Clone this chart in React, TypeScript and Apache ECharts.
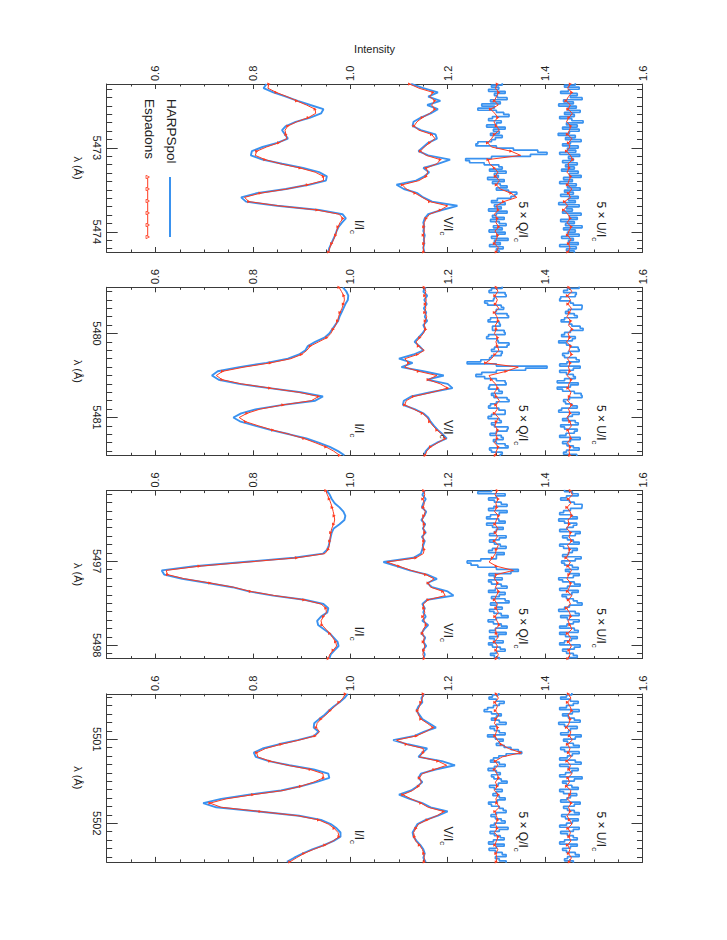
import React, { useEffect, useRef } from "react";
import * as echarts from "echarts";

// ---------- data: wavelength sampling per panel (Å) ----------
const lambdaStart = [5472.24, 5479.45, 5496.16, 5500.46];
const lambdaSpan = 2.0;
const lambdaStep = 0.05; // I, V and Espadons samples
const lambdaStepFine = 0.025; // HARPSpol Q, U samples

// ---------- Panel 1 (5473 Å) ----------
const harpsI_1 = [0.828, 0.822, 0.842, 0.868, 0.892, 0.918, 0.945, 0.940, 0.918, 0.888, 0.868, 0.860, 0.866, 0.872, 0.850, 0.820, 0.798, 0.796, 0.820, 0.860, 0.903, 0.936, 0.952, 0.950, 0.915, 0.868, 0.808, 0.776, 0.786, 0.850, 0.936, 0.984, 0.991, 0.983, 0.976, 0.972, 0.969, 0.965, 0.961, 0.957, 0.955];
const espI_1 = [0.833, 0.831, 0.848, 0.870, 0.890, 0.910, 0.928, 0.929, 0.914, 0.890, 0.872, 0.866, 0.868, 0.870, 0.853, 0.828, 0.808, 0.805, 0.825, 0.857, 0.897, 0.928, 0.945, 0.945, 0.912, 0.870, 0.815, 0.783, 0.792, 0.852, 0.932, 0.977, 0.985, 0.979, 0.975, 0.972, 0.970, 0.966, 0.962, 0.958, 0.956];
const harpsV_1 = [1.125, 1.150, 1.180, 1.160, 1.185, 1.158, 1.180, 1.165, 1.145, 1.130, 1.128, 1.145, 1.175, 1.178, 1.160, 1.150, 1.140, 1.160, 1.205, 1.180, 1.150, 1.162, 1.152, 1.135, 1.095, 1.110, 1.138, 1.150, 1.168, 1.220, 1.188, 1.160, 1.153, 1.150, 1.152, 1.150, 1.153, 1.151, 1.152, 1.150, 1.152];
const espV_1 = [1.122, 1.141, 1.170, 1.163, 1.174, 1.167, 1.174, 1.163, 1.148, 1.137, 1.131, 1.141, 1.167, 1.174, 1.163, 1.152, 1.144, 1.156, 1.185, 1.178, 1.156, 1.159, 1.156, 1.141, 1.107, 1.115, 1.133, 1.148, 1.163, 1.200, 1.185, 1.163, 1.156, 1.152, 1.151, 1.152, 1.150, 1.152, 1.151, 1.150, 1.151];
const harpsQ_1 = [
  1.312, 1.290, 1.305, 1.284, 1.318, 1.296, 1.302, 1.322, 1.288, 1.308,
  1.270, 1.296, 1.262, 1.300, 1.315, 1.326, 1.292, 1.284, 1.310, 1.300,
  1.280, 1.318, 1.294, 1.306, 1.288, 1.312, 1.298, 1.290, 1.262, 1.258,
  1.300, 1.335, 1.385, 1.404, 1.370, 1.290, 1.237, 1.245, 1.275, 1.305,
  1.312, 1.286, 1.320, 1.296, 1.304, 1.282, 1.316, 1.292, 1.308, 1.322,
  1.300, 1.325, 1.342, 1.338, 1.330, 1.302, 1.290, 1.318, 1.296, 1.310,
  1.284, 1.322, 1.300, 1.292, 1.316, 1.288, 1.306, 1.320, 1.294, 1.312,
  1.285, 1.318, 1.302, 1.290, 1.324, 1.296, 1.308, 1.286, 1.314, 1.300,
  1.306];
const espQ_1 = [1.302, 1.298, 1.305, 1.300, 1.296, 1.304, 1.288, 1.297, 1.303, 1.295, 1.300, 1.306, 1.296, 1.290, 1.282, 1.290, 1.330, 1.350, 1.283, 1.286, 1.296, 1.303, 1.298, 1.306, 1.300, 1.308, 1.330, 1.342, 1.315, 1.300, 1.304, 1.296, 1.302, 1.299, 1.305, 1.297, 1.303, 1.300, 1.296, 1.304, 1.300];
const harpsU_1 = [
  1.462, 1.440, 1.470, 1.448, 1.432, 1.466, 1.452, 1.476, 1.438, 1.458,
  1.428, 1.464, 1.446, 1.472, 1.440, 1.460, 1.430, 1.455, 1.478, 1.444,
  1.466, 1.436, 1.470, 1.450, 1.427, 1.462, 1.442, 1.474, 1.452, 1.436,
  1.468, 1.446, 1.463, 1.430, 1.471, 1.448, 1.458, 1.436, 1.466, 1.442,
  1.460, 1.434, 1.468, 1.450, 1.474, 1.438, 1.456, 1.430, 1.464, 1.446,
  1.472, 1.440, 1.458, 1.432, 1.468, 1.448, 1.462, 1.428, 1.470, 1.444,
  1.456, 1.436, 1.474, 1.450, 1.466, 1.432, 1.460, 1.442, 1.476, 1.438,
  1.462, 1.446, 1.470, 1.434, 1.458, 1.448, 1.468, 1.430, 1.464, 1.444,
  1.460];
const espU_1 = [1.452, 1.446, 1.455, 1.448, 1.443, 1.452, 1.447, 1.456, 1.449, 1.444, 1.453, 1.450, 1.446, 1.455, 1.448, 1.451, 1.444, 1.452, 1.457, 1.447, 1.450, 1.445, 1.453, 1.449, 1.446, 1.455, 1.448, 1.452, 1.440, 1.446, 1.438, 1.447, 1.452, 1.445, 1.454, 1.449, 1.446, 1.453, 1.448, 1.451, 1.447];

// ---------- Panel 2 (5480 Å) ----------
const harpsI_2 = [0.985, 0.992, 0.996, 0.995, 0.990, 0.986, 0.982, 0.978, 0.975, 0.969, 0.963, 0.957, 0.947, 0.928, 0.913, 0.908, 0.895, 0.872, 0.828, 0.772, 0.728, 0.716, 0.730, 0.772, 0.834, 0.898, 0.944, 0.928, 0.862, 0.808, 0.776, 0.760, 0.775, 0.806, 0.838, 0.875, 0.910, 0.935, 0.958, 0.975, 0.988];
const espI_2 = [0.977, 0.982, 0.987, 0.988, 0.986, 0.983, 0.979, 0.976, 0.974, 0.970, 0.965, 0.960, 0.952, 0.935, 0.918, 0.911, 0.900, 0.878, 0.836, 0.782, 0.738, 0.725, 0.737, 0.777, 0.835, 0.895, 0.935, 0.920, 0.862, 0.815, 0.788, 0.772, 0.785, 0.812, 0.841, 0.875, 0.905, 0.928, 0.950, 0.966, 0.978];
const harpsV_2 = [1.155, 1.150, 1.158, 1.152, 1.157, 1.151, 1.156, 1.153, 1.158, 1.150, 1.154, 1.148, 1.140, 1.132, 1.142, 1.150, 1.130, 1.100, 1.128, 1.105, 1.150, 1.192, 1.158, 1.200, 1.210, 1.165, 1.125, 1.110, 1.108, 1.132, 1.150, 1.160, 1.165, 1.172, 1.180, 1.190, 1.198, 1.178, 1.163, 1.155, 1.152];
const espV_2 = [1.152, 1.155, 1.153, 1.156, 1.154, 1.155, 1.153, 1.157, 1.154, 1.152, 1.155, 1.150, 1.143, 1.135, 1.140, 1.152, 1.138, 1.112, 1.120, 1.112, 1.140, 1.178, 1.160, 1.185, 1.200, 1.168, 1.130, 1.115, 1.112, 1.130, 1.148, 1.158, 1.163, 1.170, 1.178, 1.188, 1.195, 1.180, 1.165, 1.157, 1.154];
const harpsQ_2 = [
  1.312, 1.290, 1.285, 1.318, 1.320, 1.296, 1.294, 1.276, 1.282, 1.310,
  1.315, 1.300, 1.298, 1.322, 1.325, 1.288, 1.283, 1.306, 1.308, 1.292,
  1.292, 1.316, 1.318, 1.284, 1.280, 1.302, 1.304, 1.326, 1.322, 1.296,
  1.290, 1.312, 1.310, 1.290, 1.286, 1.268, 1.240, 1.300, 1.404, 1.360,
  1.300, 1.270, 1.258, 1.276, 1.300, 1.318, 1.320, 1.286, 1.284, 1.305,
  1.312, 1.290, 1.295, 1.322, 1.326, 1.300, 1.288, 1.284, 1.305, 1.318,
  1.318, 1.290, 1.283, 1.306, 1.310, 1.290, 1.296, 1.324, 1.322, 1.300,
  1.287, 1.310, 1.314, 1.294, 1.300, 1.318, 1.324, 1.286, 1.290, 1.312,
  1.308];
const espQ_2 = [1.300, 1.303, 1.297, 1.302, 1.298, 1.305, 1.296, 1.301, 1.304, 1.298, 1.300, 1.296, 1.303, 1.299, 1.302, 1.305, 1.297, 1.290, 1.278, 1.345, 1.320, 1.285, 1.290, 1.298, 1.303, 1.296, 1.300, 1.306, 1.299, 1.302, 1.296, 1.304, 1.300, 1.297, 1.303, 1.299, 1.302, 1.296, 1.304, 1.300, 1.298];
const harpsU_2 = [
  1.470, 1.446, 1.438, 1.464, 1.462, 1.432, 1.430, 1.452, 1.458, 1.476,
  1.475, 1.448, 1.442, 1.460, 1.466, 1.440, 1.433, 1.450, 1.455, 1.472,
  1.478, 1.452, 1.440, 1.434, 1.462, 1.456, 1.428, 1.444, 1.452, 1.468,
  1.470, 1.448, 1.436, 1.440, 1.464, 1.470, 1.445, 1.430, 1.472, 1.458,
  1.430, 1.444, 1.458, 1.462, 1.440, 1.425, 1.468, 1.452, 1.425, 1.436,
  1.460, 1.474, 1.476, 1.450, 1.438, 1.442, 1.455, 1.466, 1.434, 1.428,
  1.470, 1.456, 1.447, 1.436, 1.462, 1.468, 1.432, 1.440, 1.466, 1.460,
  1.443, 1.430, 1.472, 1.452, 1.436, 1.445, 1.458, 1.470, 1.444, 1.438,
  1.465];
const espU_2 = [1.449, 1.455, 1.446, 1.452, 1.447, 1.454, 1.450, 1.445, 1.453, 1.448, 1.456, 1.447, 1.451, 1.444, 1.453, 1.449, 1.455, 1.446, 1.452, 1.448, 1.451, 1.445, 1.454, 1.449, 1.447, 1.453, 1.450, 1.446, 1.455, 1.448, 1.452, 1.445, 1.451, 1.454, 1.447, 1.450, 1.453, 1.446, 1.452, 1.449, 1.451];

// ---------- Panel 3 (5497 Å) ----------
const harpsI_3 = [0.952, 0.958, 0.962, 0.968, 0.978, 0.986, 0.990, 0.988, 0.978, 0.966, 0.962, 0.960, 0.958, 0.956, 0.953, 0.944, 0.885, 0.782, 0.680, 0.613, 0.618, 0.655, 0.708, 0.758, 0.792, 0.842, 0.906, 0.945, 0.955, 0.953, 0.940, 0.932, 0.934, 0.946, 0.958, 0.966, 0.974, 0.976, 0.968, 0.960, 0.957];
const espI_3 = [0.950, 0.953, 0.957, 0.960, 0.963, 0.965, 0.967, 0.968, 0.966, 0.962, 0.960, 0.959, 0.958, 0.957, 0.955, 0.948, 0.890, 0.790, 0.690, 0.622, 0.625, 0.660, 0.712, 0.760, 0.795, 0.845, 0.905, 0.940, 0.950, 0.951, 0.945, 0.940, 0.942, 0.950, 0.958, 0.964, 0.970, 0.972, 0.965, 0.958, 0.955];
const harpsV_3 = [1.153, 1.148, 1.155, 1.150, 1.147, 1.156, 1.152, 1.146, 1.154, 1.149, 1.155, 1.147, 1.153, 1.150, 1.148, 1.145, 1.130, 1.068, 1.095, 1.122, 1.158, 1.178, 1.158, 1.168, 1.200, 1.212, 1.158, 1.148, 1.153, 1.150, 1.155, 1.148, 1.160, 1.152, 1.146, 1.154, 1.150, 1.156, 1.149, 1.153, 1.150];
const espV_3 = [1.151, 1.153, 1.149, 1.152, 1.150, 1.154, 1.151, 1.148, 1.152, 1.150, 1.153, 1.149, 1.151, 1.148, 1.152, 1.150, 1.135, 1.075, 1.100, 1.125, 1.155, 1.172, 1.160, 1.165, 1.190, 1.195, 1.160, 1.150, 1.151, 1.153, 1.149, 1.152, 1.156, 1.150, 1.148, 1.152, 1.150, 1.153, 1.151, 1.149, 1.152];
const harpsQ_3 = [
  1.290, 1.262, 1.318, 1.300, 1.284, 1.296, 1.310, 1.322, 1.295, 1.284,
  1.322, 1.306, 1.288, 1.280, 1.305, 1.318, 1.280, 1.292, 1.314, 1.300,
  1.296, 1.286, 1.320, 1.306, 1.286, 1.296, 1.308, 1.320, 1.292, 1.284,
  1.316, 1.300, 1.300, 1.268, 1.240, 1.248, 1.262, 1.300, 1.345, 1.330,
  1.285, 1.296, 1.312, 1.284, 1.290, 1.310, 1.322, 1.298, 1.284, 1.318,
  1.306, 1.290, 1.318, 1.326, 1.288, 1.300, 1.312, 1.286, 1.295, 1.310,
  1.324, 1.300, 1.283, 1.294, 1.310, 1.322, 1.298, 1.286, 1.320, 1.304,
  1.286, 1.296, 1.314, 1.284, 1.292, 1.308, 1.318, 1.300, 1.288, 1.296,
  1.306];
const espQ_3 = [1.302, 1.297, 1.304, 1.299, 1.301, 1.296, 1.305, 1.300, 1.297, 1.303, 1.298, 1.302, 1.296, 1.304, 1.300, 1.298, 1.292, 1.285, 1.300, 1.335, 1.300, 1.296, 1.303, 1.298, 1.305, 1.300, 1.296, 1.302, 1.299, 1.304, 1.297, 1.301, 1.306, 1.298, 1.300, 1.303, 1.296, 1.302, 1.299, 1.304, 1.300];
const harpsU_3 = [
  1.440, 1.456, 1.468, 1.444, 1.432, 1.450, 1.460, 1.476, 1.475, 1.452,
  1.438, 1.430, 1.455, 1.466, 1.428, 1.440, 1.465, 1.458, 1.445, 1.430,
  1.472, 1.462, 1.436, 1.446, 1.458, 1.470, 1.430, 1.438, 1.466, 1.456,
  1.448, 1.436, 1.474, 1.462, 1.434, 1.440, 1.456, 1.468, 1.442, 1.450,
  1.470, 1.458, 1.428, 1.436, 1.460, 1.472, 1.446, 1.430, 1.468, 1.455,
  1.435, 1.444, 1.458, 1.466, 1.476, 1.450, 1.440, 1.428, 1.462, 1.470,
  1.432, 1.446, 1.470, 1.458, 1.445, 1.430, 1.460, 1.468, 1.430, 1.442,
  1.466, 1.454, 1.440, 1.430, 1.472, 1.460, 1.436, 1.444, 1.458, 1.466,
  1.448];
const espU_3 = [1.452, 1.456, 1.448, 1.453, 1.445, 1.451, 1.455, 1.447, 1.450, 1.444, 1.453, 1.449, 1.455, 1.446, 1.451, 1.448, 1.443, 1.452, 1.447, 1.454, 1.449, 1.445, 1.453, 1.450, 1.446, 1.455, 1.448, 1.452, 1.444, 1.450, 1.453, 1.447, 1.451, 1.455, 1.446, 1.452, 1.448, 1.454, 1.449, 1.451, 1.447];

// ---------- Panel 4 (5501 Å) ----------
const harpsI_4 = [0.995, 0.988, 0.978, 0.966, 0.956, 0.947, 0.936, 0.926, 0.925, 0.935, 0.926, 0.892, 0.853, 0.820, 0.802, 0.806, 0.833, 0.875, 0.925, 0.955, 0.957, 0.930, 0.898, 0.858, 0.792, 0.735, 0.698, 0.725, 0.812, 0.895, 0.940, 0.960, 0.972, 0.980, 0.980, 0.966, 0.946, 0.922, 0.902, 0.885, 0.870];
const espI_4 = [0.990, 0.985, 0.977, 0.968, 0.959, 0.950, 0.940, 0.932, 0.930, 0.937, 0.928, 0.895, 0.858, 0.826, 0.808, 0.810, 0.835, 0.872, 0.918, 0.944, 0.945, 0.925, 0.898, 0.862, 0.800, 0.745, 0.712, 0.735, 0.815, 0.892, 0.935, 0.955, 0.967, 0.975, 0.977, 0.965, 0.948, 0.925, 0.905, 0.890, 0.876];
const harpsV_4 = [1.152, 1.146, 1.148, 1.140, 1.136, 1.142, 1.148, 1.162, 1.176, 1.152, 1.132, 1.088, 1.118, 1.158, 1.148, 1.140, 1.188, 1.215, 1.175, 1.145, 1.140, 1.148, 1.138, 1.125, 1.100, 1.122, 1.148, 1.165, 1.200, 1.180, 1.155, 1.138, 1.133, 1.128, 1.130, 1.136, 1.144, 1.150, 1.153, 1.150, 1.155];
const espV_4 = [1.150, 1.148, 1.145, 1.142, 1.138, 1.140, 1.145, 1.158, 1.170, 1.155, 1.136, 1.095, 1.115, 1.150, 1.150, 1.142, 1.180, 1.198, 1.172, 1.148, 1.142, 1.146, 1.140, 1.128, 1.108, 1.125, 1.145, 1.160, 1.192, 1.178, 1.158, 1.140, 1.135, 1.130, 1.132, 1.134, 1.142, 1.148, 1.151, 1.152, 1.152];
const harpsQ_4 = [
  1.305, 1.292, 1.285, 1.300, 1.316, 1.306, 1.294, 1.282, 1.275, 1.290,
  1.310, 1.300, 1.290, 1.306, 1.320, 1.300, 1.287, 1.296, 1.306, 1.318,
  1.282, 1.298, 1.314, 1.306, 1.300, 1.316, 1.330, 1.345, 1.352, 1.320,
  1.305, 1.294, 1.288, 1.306, 1.318, 1.296, 1.283, 1.300, 1.308, 1.290,
  1.295, 1.310, 1.322, 1.304, 1.286, 1.296, 1.312, 1.300, 1.293, 1.306,
  1.318, 1.302, 1.284, 1.290, 1.306, 1.314, 1.320, 1.300, 1.289, 1.298,
  1.310, 1.318, 1.296, 1.288, 1.324, 1.306, 1.287, 1.296, 1.308, 1.316,
  1.294, 1.284, 1.316, 1.300, 1.285, 1.298, 1.312, 1.320, 1.298, 1.306,
  1.320];
const espQ_4 = [1.300, 1.304, 1.297, 1.302, 1.298, 1.305, 1.299, 1.296, 1.303, 1.300, 1.297, 1.302, 1.310, 1.325, 1.350, 1.312, 1.298, 1.303, 1.296, 1.301, 1.305, 1.298, 1.302, 1.296, 1.304, 1.299, 1.301, 1.306, 1.297, 1.300, 1.303, 1.298, 1.302, 1.296, 1.304, 1.300, 1.297, 1.303, 1.299, 1.301, 1.300];
const harpsU_4 = [
  1.455, 1.444, 1.432, 1.452, 1.468, 1.458, 1.444, 1.430, 1.470, 1.456,
  1.436, 1.448, 1.460, 1.472, 1.428, 1.440, 1.466, 1.452, 1.448, 1.432,
  1.474, 1.462, 1.438, 1.446, 1.458, 1.470, 1.432, 1.440, 1.470, 1.456,
  1.446, 1.430, 1.462, 1.474, 1.430, 1.448, 1.468, 1.455, 1.442, 1.430,
  1.476, 1.460, 1.436, 1.444, 1.455, 1.468, 1.430, 1.438, 1.465, 1.452,
  1.445, 1.432, 1.472, 1.460, 1.438, 1.446, 1.460, 1.470, 1.434, 1.442,
  1.468, 1.456, 1.444, 1.430, 1.470, 1.458, 1.432, 1.446, 1.458, 1.466,
  1.440, 1.430, 1.466, 1.452, 1.436, 1.444, 1.462, 1.470, 1.446, 1.440,
  1.458];
const espU_4 = [1.448, 1.453, 1.446, 1.451, 1.455, 1.447, 1.452, 1.449, 1.444, 1.453, 1.450, 1.456, 1.446, 1.451, 1.448, 1.454, 1.445, 1.452, 1.449, 1.455, 1.447, 1.450, 1.444, 1.453, 1.451, 1.446, 1.454, 1.448, 1.452, 1.445, 1.450, 1.455, 1.447, 1.452, 1.449, 1.453, 1.446, 1.451, 1.448, 1.454, 1.450];

const harpsIV = [
  [harpsI_1, harpsV_1],
  [harpsI_2, harpsV_2],
  [harpsI_3, harpsV_3],
  [harpsI_4, harpsV_4],
];
const harpsQU = [
  [harpsQ_1, harpsU_1],
  [harpsQ_2, harpsU_2],
  [harpsQ_3, harpsU_3],
  [harpsQ_4, harpsU_4],
];
const espPanels = [
  [espI_1, espV_1, espQ_1, espU_1],
  [espI_2, espV_2, espQ_2, espU_2],
  [espI_3, espV_3, espQ_3, espU_3],
  [espI_4, espV_4, espQ_4, espU_4],
];

const intensityMin = 0.5;
const intensityMax = 1.6;

// profile labels: main text, subscript, intensity position, fraction down the panel
const profileLabels = [
  { main: "5 × U/I", sub: "c", v: 1.51, f: 0.70 },
  { main: "5 × Q/I", sub: "c", v: 1.35, f: 0.70 },
  { main: "V/I", sub: "c", v: 1.197, f: 0.79 },
  { main: "I/I", sub: "c", v: 1.013, f: 0.81 },
];

// ---------- layout / style ----------
const FONT = "'Liberation Sans', 'Noto Sans', Arial, sans-serif";
const INK = "#222";
const AXIS = "#3a3a3a";
const BLUE = "#3a92ef";
const RED = "#ff3b1f";

const GRID_LEFT = 106.7;
const GRID_WIDTH = 535.8;
const GRID_HEIGHT = 168;
const GRID_TOPS = [84, 287.3, 490.6, 693.9];

function stepData(values: number[], start: number, step: number) {
  const out: number[][] = [];
  values.forEach((v, k) => {
    const c = start + k * step;
    out.push([v, c - step / 2], [v, c + step / 2]);
  });
  return out;
}

function plainData(values: number[], start: number, step: number) {
  return values.map((v, k) => [v, start + k * step]);
}

function markerData(values: number[], start: number) {
  return values.map((v, k) => ({
    value: [v, start + k * lambdaStep],
    symbol: k % 2 === 0 ? "triangle" : "none",
  }));
}

function buildOption() {
  const grid: any[] = [];
  const xAxis: any[] = [];
  const yAxis: any[] = [];
  const blueSeries: any[] = [];
  const redSeries: any[] = [];
  const graphic: any[] = [];

  GRID_TOPS.forEach((top, i) => {
    grid.push({ left: GRID_LEFT, top, width: GRID_WIDTH, height: GRID_HEIGHT, containLabel: false });
    const xCommon = {
      type: "value",
      gridIndex: i,
      min: intensityMin,
      max: intensityMax,
      splitNumber: 5,
      splitLine: { show: false },
      axisLine: { show: true, onZero: false, lineStyle: { color: AXIS, width: 1 } },
      axisTick: { show: true, inside: true, length: 5, lineStyle: { color: AXIS, width: 1 } },
      minorTick: { show: true, splitNumber: 4, length: 2.5, lineStyle: { color: AXIS, width: 1 } },
      minorSplitLine: { show: false },
    };
    xAxis.push({
      ...xCommon,
      position: "top",
      axisLabel: {
        show: true,
        rotate: -90,
        margin: 3,
        fontSize: 11,
        fontFamily: FONT,
        color: INK,
        showMinLabel: false,
        showMaxLabel: true,
        formatter: (v: number) => v.toFixed(1),
      },
    });
    xAxis.push({ ...xCommon, position: "bottom", axisLabel: { show: false } });

    const start = lambdaStart[i];
    const yCommon = {
      type: "value",
      gridIndex: i,
      inverse: true,
      min: start,
      max: start + lambdaSpan,
      splitNumber: 2,
      splitLine: { show: false },
      axisLine: { show: true, onZero: false, lineStyle: { color: AXIS, width: 1 } },
      axisTick: { show: true, inside: true, length: 11, lineStyle: { color: AXIS, width: 1 } },
      minorTick: { show: true, splitNumber: 10, length: 5.5, lineStyle: { color: AXIS, width: 1 } },
      minorSplitLine: { show: false },
    };
    yAxis.push({
      ...yCommon,
      position: "left",
      name: "λ (Å)",
      nameLocation: "middle",
      nameRotate: -90,
      nameGap: 21,
      nameTextStyle: { fontSize: 11, fontFamily: FONT, color: INK },
      axisLabel: {
        show: true,
        rotate: -90,
        margin: 4,
        fontSize: 11,
        fontFamily: FONT,
        color: INK,
        showMinLabel: false,
        showMaxLabel: false,
        formatter: (v: number) => v.toFixed(0),
      },
    });
    yAxis.push({ ...yCommon, position: "right", axisLabel: { show: false } });

    harpsIV[i].forEach((vals) => {
      blueSeries.push({
        type: "line",
        name: "HARPSpol",
        xAxisIndex: 2 * i,
        yAxisIndex: 2 * i,
        data: plainData(vals, start, lambdaStep),
        showSymbol: false,
        symbol: "none",
        clip: true,
        lineStyle: { color: BLUE, width: 1.9 },
        z: 2,
      });
    });
    harpsQU[i].forEach((vals) => {
      blueSeries.push({
        type: "line",
        name: "HARPSpol",
        xAxisIndex: 2 * i,
        yAxisIndex: 2 * i,
        data: stepData(vals, start, lambdaStepFine),
        showSymbol: false,
        symbol: "none",
        clip: true,
        lineStyle: { color: BLUE, width: 1.7 },
        z: 2,
      });
    });
    espPanels[i].forEach((vals) => {
      redSeries.push({
        type: "line",
        name: "Espadons",
        xAxisIndex: 2 * i,
        yAxisIndex: 2 * i,
        data: markerData(vals, start),
        showSymbol: true,
        symbolSize: 3.2,
        symbolRotate: -90,
        clip: true,
        itemStyle: { color: RED, borderWidth: 0 },
        lineStyle: { color: RED, width: 1 },
        z: 3,
      });
    });

    profileLabels.forEach((lab) => {
      graphic.push({
        type: "text",
        x: GRID_LEFT + ((lab.v - intensityMin) / (intensityMax - intensityMin)) * GRID_WIDTH,
        y: top + lab.f * GRID_HEIGHT,
        rotation: -Math.PI / 2,
        z: 10,
        style: {
          text: `{m|${lab.main}}{s|${lab.sub}}`,
          align: "left",
          verticalAlign: "middle",
          rich: {
            m: { fontSize: 12, fontFamily: FONT, fill: INK, lineHeight: 16, verticalAlign: "top" },
            s: { fontSize: 8, fontFamily: FONT, fill: INK, lineHeight: 8, verticalAlign: "bottom" },
          },
        },
      });
    });
  });

  // "Intensity" title
  graphic.push({
    type: "text",
    x: GRID_LEFT + GRID_WIDTH / 2,
    y: 49,
    style: { text: "Intensity", fontSize: 11, fontFamily: FONT, fill: INK, align: "center", verticalAlign: "middle" },
  });

  // legend (rotated)
  const legText = (txt: string, x: number) => ({
    type: "text",
    x,
    y: 99,
    rotation: -Math.PI / 2,
    style: { text: txt, fontSize: 13.5, fontFamily: FONT, fill: INK, align: "left", verticalAlign: "middle" },
  });
  graphic.push(legText("HARPSpol", 171));
  graphic.push(legText("Espadons", 149));
  graphic.push({ type: "line", shape: { x1: 170, y1: 177, x2: 170, y2: 237 }, style: { stroke: BLUE, lineWidth: 2 } });
  graphic.push({ type: "line", shape: { x1: 147.7, y1: 177, x2: 147.7, y2: 237 }, style: { stroke: RED, lineWidth: 1 } });
  [177, 189, 201, 213, 225, 237].forEach((yy) => {
    graphic.push({
      type: "polygon",
      shape: { points: [[146.0, yy - 1.7], [146.0, yy + 1.7], [149.4, yy]] },
      style: { fill: "#fff", stroke: RED, lineWidth: 0.8 },
    });
  });

  return {
    animation: false,
    backgroundColor: "#ffffff",
    grid,
    xAxis,
    yAxis,
    series: [...blueSeries, ...redSeries],
    graphic: { elements: graphic },
  };
}

export default function App() {
  const ref = useRef<HTMLDivElement>(null);
  useEffect(() => {
    if (!ref.current) return;
    const chart = echarts.init(ref.current, undefined, { renderer: "svg" });
    chart.setOption(buildOption() as any);
    return () => chart.dispose();
  }, []);
  return (
    <div
      ref={ref}
      style={{ position: "absolute", left: 0, top: 0, width: 727, height: 940, background: "#fff" }}
    />
  );
}
